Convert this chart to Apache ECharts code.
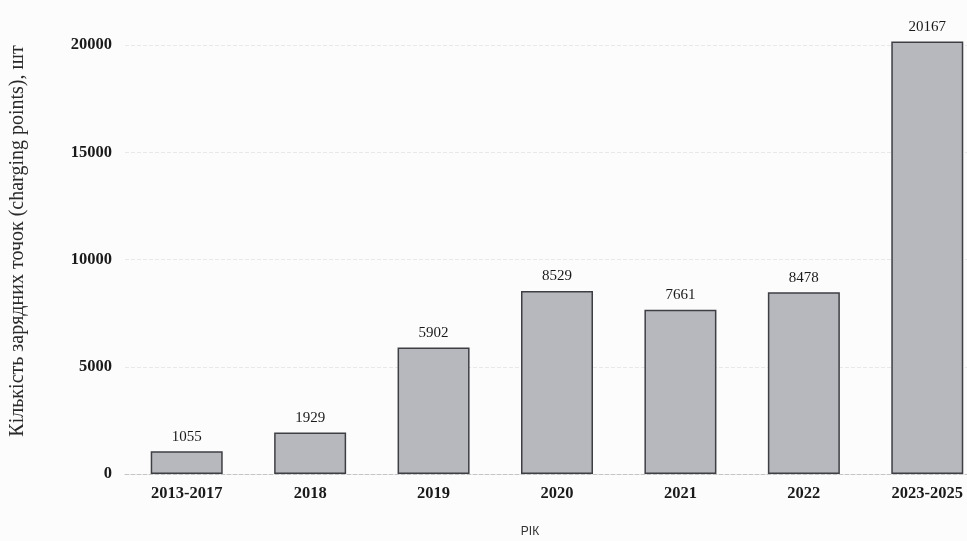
<!DOCTYPE html>
<html>
<head>
<meta charset="utf-8">
<script src="https://cdn.jsdelivr.net/npm/echarts@6/dist/echarts.min.js"></script>
<style>html,body{margin:0;padding:0;background:#fcfcfc;}#c{width:967px;height:541px;}</style>
</head>
<body>
<div id="c"></div>
<script>
var categories = ['2013-2017', '2018', '2019', '2020', '2021', '2022', '2023-2025'];
var values = [1055, 1929, 5902, 8529, 7661, 8478, 20167];
var yTicks = [0, 5000, 10000, 15000, 20000];
var yTitle = 'Кількість зарядних точок (charging points), шт';
var xTitle = 'РІК';

var chart = echarts.init(document.getElementById('c'), null, {renderer: 'canvas'});
chart.setOption({
  backgroundColor: '#fcfcfc',
  animation: false,
  grid: {left: 125, top: 45, right: -22, bottom: 67, containLabel: false, outerBoundsMode: 'none'},
  xAxis: {
    type: 'category',
    data: categories,
    axisLine: {lineStyle: {color: '#c4c4c4', width: 1, type: 'dashed'}},
    axisTick: {show: false},
    axisLabel: {margin: 11, fontFamily: 'Liberation Serif', fontWeight: 'bold', fontSize: 16.5, color: '#1a1a1a'}
  },
  yAxis: {
    type: 'value',
    min: yTicks[0],
    max: yTicks[yTicks.length - 1],
    interval: 5000,
    axisLine: {show: false},
    axisTick: {show: false},
    splitLine: {lineStyle: {color: '#e8e8e8', type: 'dashed'}},
    axisLabel: {margin: 13, fontFamily: 'Liberation Serif', fontWeight: 'bold', fontSize: 16.5, color: '#1a1a1a',
      formatter: function (v) { return String(v); }}
  },
  graphic: [
    {type: 'text', x: 18, y: 241, rotation: Math.PI / 2,
     style: {text: yTitle, fontFamily: 'Liberation Serif', fontSize: 20, fill: '#2a2a2a', textAlign: 'center', textVerticalAlign: 'middle'}},
    {type: 'text', x: 530, y: 532,
     style: {text: xTitle, fontFamily: 'Liberation Sans', fontSize: 12, fill: '#333', textAlign: 'center', textVerticalAlign: 'middle'}}
  ],
  series: [{
    type: 'bar',
    data: values,
    barWidth: 72,
    clip: false,
    itemStyle: {color: '#b6b8be', borderColor: '#3e3f44', borderWidth: 1.5},
    label: {show: true, position: 'top', distance: 7, fontFamily: 'Liberation Serif', fontSize: 15, color: '#1a1a1a'}
  }]
});
</script>
</body>
</html>
